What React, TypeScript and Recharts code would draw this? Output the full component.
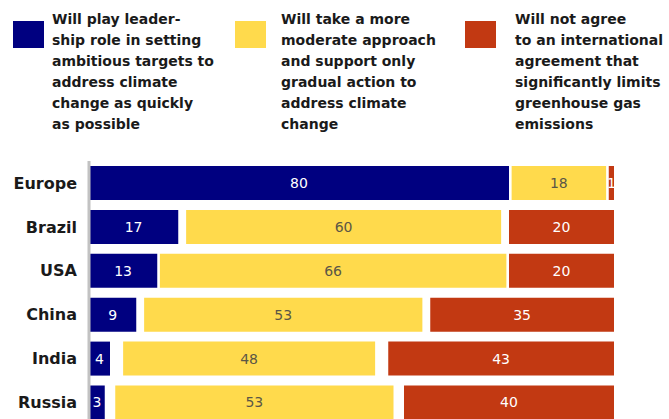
import React from 'react';
import { BarChart, Bar, XAxis, YAxis, LabelList, Legend } from 'recharts';

const countries = ['Europe', 'Brazil', 'USA', 'China', 'India', 'Russia'];
const leadership = [80, 17, 13, 9, 4, 3];
const moderate = [18, 60, 66, 53, 48, 53];
const notAgree = [1, 20, 20, 35, 43, 40];
const noAnswer = [1, 3, 1, 3, 5, 4];

const legendLines = [
  ['Will play leader-', 'ship role in setting', 'ambitious targets to', 'address climate', 'change as quickly', 'as possible'],
  ['Will take a more', 'moderate approach', 'and support only', 'gradual action to', 'address climate', 'change'],
  ['Will not agree', 'to an international', 'agreement that', 'significantly limits', 'greenhouse gas', 'emissions'],
];

const BLUE = '#000080';
const YELLOW = '#FFDA4C';
const RED = '#C23912';
const colors = [BLUE, YELLOW, RED];

const data = countries.map((c, i) => ({
  country: c,
  lead: leadership[i],
  gap1: noAnswer[i] / 2,
  mod: moderate[i],
  gap2: noAnswer[i] / 2,
  not: notAgree[i],
}));

const FONT = '"DejaVu Sans", Verdana, sans-serif';

const legendSquareX = [13, 235, 465];
const legendTextX = [52, 281, 515];

const LegendContent = () => (
  <svg width={669} height={158} style={{ display: 'block' }}>
    {legendLines.map((lines, s) => (
      <g key={s}>
        <rect x={legendSquareX[s]} y={21} width={31} height={27} fill={colors[s]} />
        <text fontFamily={FONT} fontWeight="bold" fontSize={14} fill="#1a1a1a">
          {lines.map((ln, k) => (
            <tspan key={k} x={legendTextX[s]} y={24 + k * 21}>
              {ln}
            </tspan>
          ))}
        </text>
      </g>
    ))}
  </svg>
);

export default function App() {
  return (
    <div style={{ position: 'absolute', left: 0, top: 0 }}>
      <BarChart
        width={669}
        height={430}
        data={data}
        layout="vertical"
        margin={{ top: 161, right: 55, bottom: 5.6, left: 0 }}
      >
        <XAxis type="number" domain={[0, 100]} hide />
        <YAxis
          type="category"
          dataKey="country"
          width={89}
          axisLine={{ stroke: '#c2c2c2', strokeWidth: 3 }}
          tickLine={false}
          tickSize={6}
          tickMargin={6}
          tick={{ fontFamily: FONT, fontWeight: 'bold', fontSize: 16, fill: '#1a1a1a' }}
        />
        <Legend
          layout="horizontal"
          verticalAlign="middle"
          align="center"
          content={LegendContent}
          wrapperStyle={{ top: 0, left: 0, width: 669, height: 158 }}
        />
        <Bar dataKey="lead" stackId="a" fill={BLUE} barSize={34} isAnimationActive={false}>
          <LabelList dataKey="lead" position="center" fill="#ffffff" fontFamily={FONT} fontSize={14} />
        </Bar>
        <Bar dataKey="gap1" stackId="a" fill="transparent" barSize={34} isAnimationActive={false} />
        <Bar dataKey="mod" stackId="a" fill={YELLOW} barSize={34} isAnimationActive={false}>
          <LabelList dataKey="mod" position="center" fill="#5b5646" fontFamily={FONT} fontSize={14} />
        </Bar>
        <Bar dataKey="gap2" stackId="a" fill="transparent" barSize={34} isAnimationActive={false} />
        <Bar dataKey="not" stackId="a" fill={RED} barSize={34} isAnimationActive={false}>
          <LabelList dataKey="not" position="center" fill="#ffffff" fontFamily={FONT} fontSize={14} />
        </Bar>
      </BarChart>
    </div>
  );
}
